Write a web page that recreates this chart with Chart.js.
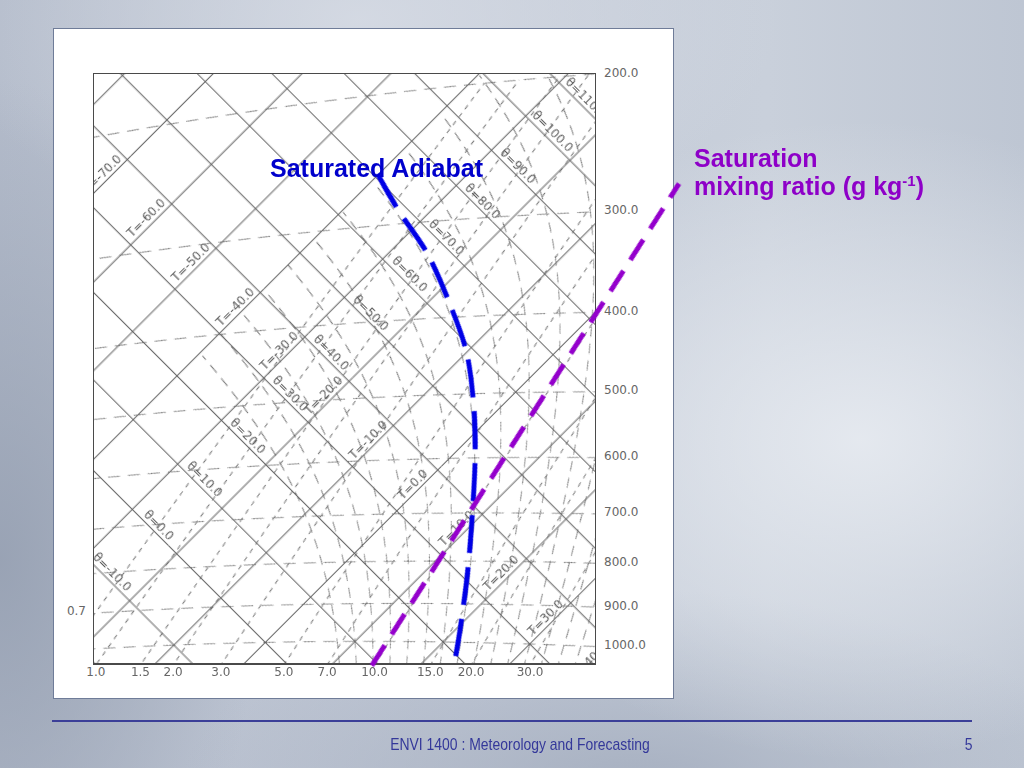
<!DOCTYPE html>
<html><head><meta charset="utf-8">
<script src="https://cdn.jsdelivr.net/npm/chart.js@4.4.1/dist/chart.umd.min.js"></script>
<style>
html,body{margin:0;padding:0;}
body{width:1024px;height:768px;position:relative;overflow:hidden;font-family:"Liberation Sans",Arial,sans-serif;
background:
 radial-gradient(ellipse 420px 320px at 860px 440px, rgba(230,234,240,0.95), rgba(230,234,240,0) 100%),
 radial-gradient(ellipse 420px 220px at 360px 20px, rgba(215,220,229,0.85), rgba(215,220,229,0) 100%),
 radial-gradient(ellipse 260px 480px at 0px 560px, rgba(150,160,178,0.9), rgba(150,160,178,0) 100%),
 radial-gradient(ellipse 460px 200px at 640px 790px, rgba(158,168,186,0.8), rgba(158,168,186,0) 100%),
 linear-gradient(90deg,#b4bccb 0%,#c3cad7 45%,#c9d0db 75%,#bec6d3 100%);}
.abs{position:absolute;}
#card{left:53px;top:28px;width:621px;height:671px;background:#fff;border:1px solid #6f7c98;box-sizing:border-box;}
#plot{left:94px;top:74px;width:501px;height:590px;overflow:hidden;}
#frame{left:93px;top:73px;width:503px;height:592px;border:1px solid #4a4a4a;border-bottom-width:2px;box-sizing:border-box;}
.tick{position:absolute;font:12px "DejaVu Sans",sans-serif;color:#666;white-space:nowrap;line-height:14px;}
.ttl{position:absolute;font-weight:bold;font-size:25px;line-height:25px;white-space:nowrap;font-family:"Liberation Sans",Arial,sans-serif;}
#foot{left:52px;top:720px;width:920px;height:2px;background:#3b3f98;}
.ft{position:absolute;font-family:"Liberation Sans Narrow","Arial Narrow","Liberation Sans",sans-serif;font-size:17px;color:#34389a;white-space:nowrap;line-height:18px;}
</style></head>
<body>
<div id="card" class="abs"></div>
<div id="plot" class="abs"></div>
<div id="frame" class="abs"></div>
<div id="ticks"></div>
<div id="over"></div>
<div class="ttl" style="left:270px;top:156px;color:#0000cc;">Saturated Adiabat</div>
<div class="ttl" style="left:694px;top:146px;color:#8e00c8;">Saturation</div>
<div class="ttl" style="left:694px;top:174px;color:#8e00c8;">mixing ratio (g kg<sup style="font-size:15px;vertical-align:9px;line-height:0">-1</sup>)</div>
<div id="foot" class="abs"></div>
<div class="ft" style="left:520px;top:736px;transform:translateX(-50%) scaleX(0.82);">ENVI 1400 : Meteorology and Forecasting</div>
<div class="ft" style="left:964px;top:736px;transform:scaleX(0.82);">5</div>
<script>
// ---------------- data ----------------
const isotherms      = [-80,-70,-60,-50,-40,-30,-20,-10,0,10,20,30,40];          // °C
const isothermLabels = [-70,-60,-50,-40,-30,-20,-10,0,10,20,30,40];
const dryAdiabats    = [-20,-10,0,10,20,30,40,50,60,70,80,90,100,110,120];     // θ °C
const adiabatLabels  = [-10,0,10,20,30,40,50,60,70,80,90,100,110];
const isobars        = [200,300,400,500,600,700,800,900,1000];                  // hPa
const isobarTicks    = ['200.0','300.0','400.0','500.0','600.0','700.0','800.0','900.0','1000.0'];
const mixingRatios   = [0.7,1,1.5,2,3,5,7,10,15,20,30];                          // g/kg
const mixingTicks    = ['0.7','1.0','1.5','2.0','3.0','5.0','7.0','10.0','15.0','20.0','30.0'];
const moistAdiabats  = [8,10,12,14,16,18,20,22,24,26,28,30,32,34,36];            // T at 1000 hPa
const moistTopT      = -40;   // moist adiabats end at this temperature
// highlighted saturated adiabat (blue)
const satAdiabatP = [256,286,330,383,444,520,604,705,821,955,1066];
const satAdiabatT = [-40.1,-34.0,-25.5,-17.5,-9.9,-2.9,3.2,9.1,14.8,20.2,24.0];
// highlighted saturation mixing ratio line (purple)
const satMixP = [1069,279];
const satMixT = [14.7,-5.0];

// ---------------- projection geometry of the tephigram ----------------
const GEOM = {s0:906.9, sT:8.87, d0:-471, dL:2522, thRef:263.15};
const PLOT = {X0:94, Y0:74, X1:595, Y1:664};
const KAPPA = 0.2857;
const thetaK = (T,p)=>(T+273.15)*Math.pow(1000/p,KAPPA);
function es(T){return 6.112*Math.exp(17.67*T/(T+243.5));}
function tFromW(w,p){const e=w*p/(622+w);const l=Math.log(e/6.112);return 243.5*l/(17.67-l);}
function dTdp(p,T){const TK=T+273.15,e=es(T),rs=0.622*e/(p-e);
  return (287.04*TK+2.501e6*rs)/(p*(1005.7+2.501e6*2.501e6*rs*0.622/(287.04*TK*TK)));}
function rk(p,T,h){const k1=dTdp(p,T),k2=dTdp(p+h/2,T+h/2*k1),k3=dTdp(p+h/2,T+h/2*k2),k4=dTdp(p+h,T+h*k3);return T+h/6*(k1+2*k2+2*k3+k4);}

function frame(X0,Y0,X1,Y1){
  const sMin=X0+Y0,sMax=X1+Y1,dMin=X0-Y1,dMax=X1-Y0;
  const W=Math.round((sMax-sMin)/Math.SQRT2),H=Math.round((dMax-dMin)/Math.SQRT2);
  const sTop=sMin+W*Math.SQRT2,dTop=dMin+H*Math.SQRT2;
  const sc=(sMin+sTop)/2,dc=(dMin+dTop)/2;
  return {W,H,Xc:(sc+dc)/2,Yc:(sc-dc)/2,
    Tmin:(sMin-GEOM.s0)/GEOM.sT,Tmax:(sTop-GEOM.s0)/GEOM.sT,
    thMin:GEOM.thRef*Math.exp((dMin-GEOM.d0)/GEOM.dL),thMax:GEOM.thRef*Math.exp((dTop-GEOM.d0)/GEOM.dL)};
}
function makeChart(parent,fr,offX,offY,datasets,plugins){
  const box=document.createElement('div');
  box.style.cssText=`position:absolute;left:${fr.Xc-offX-fr.W/2}px;top:${fr.Yc-offY-fr.H/2}px;width:${fr.W}px;height:${fr.H}px;transform:rotate(45deg);transform-origin:50% 50%;`;
  const cv=document.createElement('canvas');cv.width=fr.W;cv.height=fr.H;
  cv.style.width=fr.W+'px';cv.style.height=fr.H+'px';
  box.appendChild(cv);parent.appendChild(box);
  return new Chart(cv,{type:'scatter',data:{datasets},
    options:{responsive:false,animation:false,devicePixelRatio:1,events:[],layout:{padding:0},
      plugins:{legend:{display:false},tooltip:{enabled:false}},
      scales:{x:{type:'linear',min:fr.Tmin,max:fr.Tmax,display:false,bounds:'data'},
              y:{type:'logarithmic',min:fr.thMin,max:fr.thMax,display:false,bounds:'data'}}},
    plugins:plugins||[]});
}
function ds(points,color,width,dash,tension){
  return {data:points,showLine:true,borderColor:color,borderWidth:width,borderDash:dash||[],
    pointRadius:0,fill:false,tension:tension||0,clip:false,borderCapStyle:'butt'};
}
function screenOf(ch,fr,T,thK){
  const cx=ch.scales.x.getPixelForValue(T)-fr.W/2,cy=ch.scales.y.getPixelForValue(thK)-fr.H/2;
  const c=Math.SQRT1_2;return {X:fr.Xc+(cx-cy)*c,Y:fr.Yc+(cx+cy)*c};
}

// ---------------- background diagram ----------------
const F1=frame(PLOT.X0,PLOT.Y0,PLOT.X1,PLOT.Y1);
const GRID='#626262',DASH='#737373';
const sets=[];
isotherms.forEach(T=>sets.push(ds([{x:T,y:F1.thMin*0.9},{x:T,y:F1.thMax*1.1}],GRID,1)));
dryAdiabats.forEach(th=>sets.push(ds([{x:F1.Tmin-20,y:th+273.15},{x:F1.Tmax+20,y:th+273.15}],GRID,1)));
isobars.forEach(p=>{const pts=[];for(let T=-120;T<=80;T+=2)pts.push({x:T,y:thetaK(T,p)});sets.push(ds(pts,DASH,1,[12,8]));});
mixingRatios.forEach(w=>{const pts=[];for(let p=1120;p>=200;p-=10){const T=tFromW(w,p);pts.push({x:T,y:thetaK(T,p)});}sets.push(ds(pts,DASH,1,[5,5]));});
moistAdiabats.forEach(T0=>{
  const dn=[];let T=T0;for(let p=1000;p<=1120;p+=5){dn.push({x:T,y:thetaK(T,p)});T=rk(p,T,5);}
  const up=[];T=T0;for(let p=1000;p>=150&&T>=moistTopT;p-=5){up.push({x:T,y:thetaK(T,p)});T=rk(p,T,-5);}
  sets.push(ds(dn.reverse().concat(up.slice(1)),DASH,1,[10,7]));
});
const labelPlugin={id:'lbl',afterDatasetsDraw(ch){
  const ctx=ch.ctx,x=ch.scales.x,y=ch.scales.y;ctx.save();
  ctx.fillStyle='#5e5e5e';ctx.font='12px "DejaVu Sans", sans-serif';ctx.textAlign='center';ctx.textBaseline='bottom';
  isothermLabels.forEach(T=>{ctx.save();ctx.translate(x.getPixelForValue(T)-1,y.getPixelForValue(308.3));
    ctx.rotate(-Math.PI/2);ctx.fillText('T='+T.toFixed(1),0,0);ctx.restore();});
  adiabatLabels.forEach(th=>{ctx.fillText('\u03B8='+th.toFixed(1),x.getPixelForValue(-25.2),y.getPixelForValue(th+273.15)-1);});
  ctx.restore();}};
const chart1=makeChart(document.getElementById('plot'),F1,PLOT.X0,PLOT.Y0,sets,[labelPlugin]);

// ---------------- axis tick labels ----------------
const tk=document.getElementById('ticks');
function addTick(txt,X,Y,align){const d=document.createElement('div');d.className='tick';d.textContent=txt;
  d.style.left=X+'px';d.style.top=Y+'px';
  d.style.transform=align==='c'?'translate(-50%,0)':align==='r'?'translate(-100%,-50%)':'translate(0,-50%)';tk.appendChild(d);}
function bisect(f,a,b){let fa=f(a);for(let i=0;i<60;i++){const m=(a+b)/2,fm=f(m);if((fm>0)===(fa>0)){a=m;fa=fm;}else b=m;}return (a+b)/2;}
isobars.forEach((p,i)=>{
  const T=bisect(t=>screenOf(chart1,F1,t,thetaK(t,p)).X-PLOT.X1,-120,80);
  const s=screenOf(chart1,F1,T,thetaK(T,p));addTick(isobarTicks[i],604,s.Y-1,'l');
});
mixingRatios.forEach((w,i)=>{
  const pt=p=>{const T=tFromW(w,p);return screenOf(chart1,F1,T,thetaK(T,p));};
  const pb=bisect(p=>pt(p).Y-PLOT.Y1,250,1200);const s=pt(pb);
  if(s.X>=PLOT.X0-3){addTick(mixingTicks[i],s.X,665,'c');}
  else{const pl=bisect(p=>pt(p).X-PLOT.X0,250,1200);addTick(mixingTicks[i],86,pt(pl).Y-3,'r');}
});

// ---------------- highlighted lines (unclipped overlay) ----------------
const F2=frame(0,0,1024,768);
const blue=satAdiabatP.map((p,i)=>({x:satAdiabatT[i],y:thetaK(satAdiabatT[i],p)}));
const purple=satMixP.map((p,i)=>({x:satMixT[i],y:thetaK(satMixT[i],p)}));
makeChart(document.getElementById('over'),F2,0,0,[
  ds(purple,'#9400cc',5,[24,13]),
  ds(blue,'#0000e6',5,[38,14],0.3)
]);
</script>
</body></html>
